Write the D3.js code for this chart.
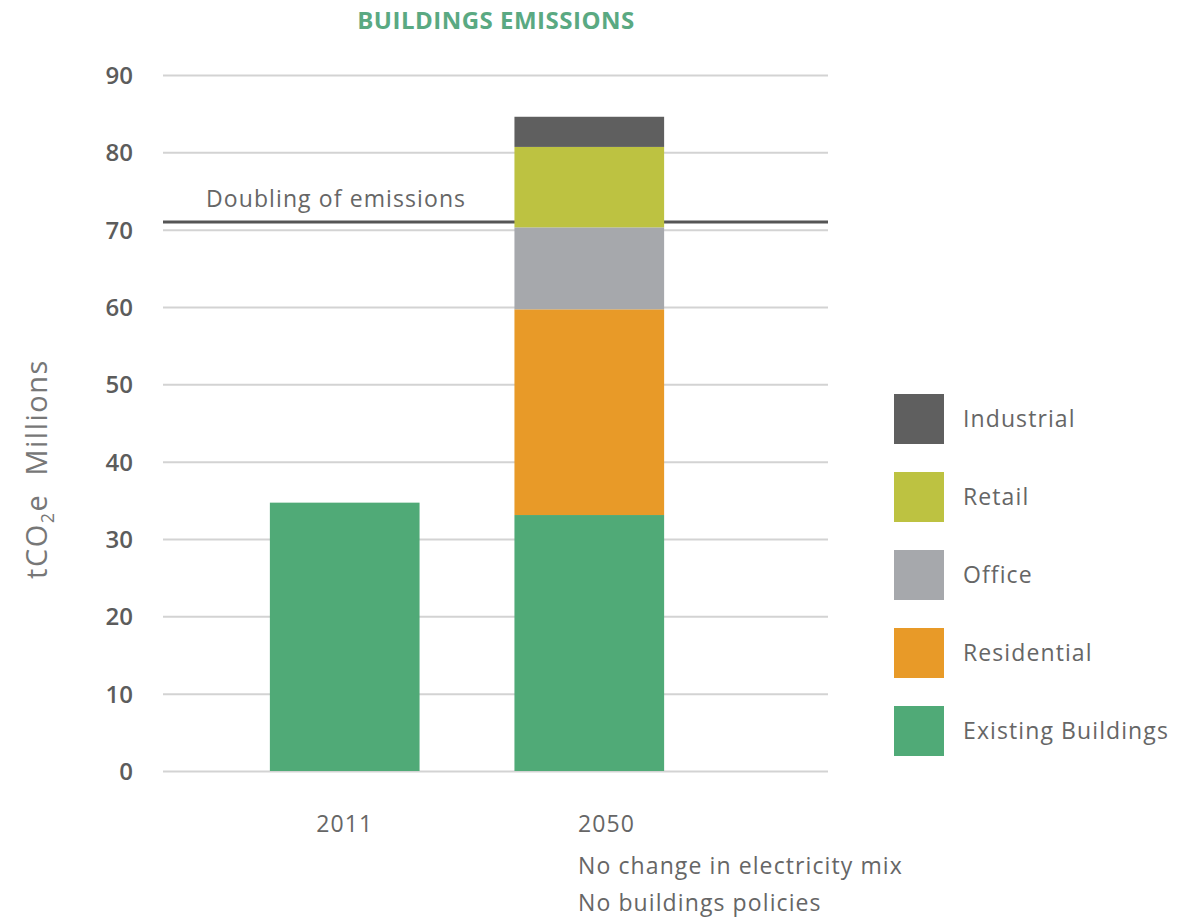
<!DOCTYPE html>
<html><head><meta charset="utf-8">
<script src="https://cdn.jsdelivr.net/npm/d3@7"></script>
<style>body{margin:0;background:#fff}svg{display:block}</style>
</head><body>
<svg id="chart" width="1180" height="918"></svg>
<script>
const categories = ["2011", "2050"];
const seriesNames = ["Existing Buildings", "Residential", "Office", "Retail", "Industrial"];
const existingBuildings = [34.7, 33.1];
const residential = [0, 26.6];
const office = [0, 10.6];
const retail = [0, 10.4];
const industrial = [0, 3.9];
const yTicks = [0, 10, 20, 30, 40, 50, 60, 70, 80, 90];
const doublingValue = 71;
const colors = ["#50aa77", "#e89a28", "#a6a8ac", "#bdc241", "#5f5f5f"];

const svg = d3.select("#chart");
const font = "'Open Sans', sans-serif";
const textColor = "#666";
const fs = 23, ls = 1.1;

const y = d3.scaleLinear().domain([0, 90]).range([771, 75]);
const x = d3.scaleBand().domain(categories).range([163, 771]).paddingInner(0.388).paddingOuter(0.437);
const gridX0 = 163, gridX1 = 828;

// title
svg.append("text").attr("x", 496).attr("y", 29).attr("text-anchor", "middle")
  .attr("font-family", font).attr("font-weight", 700).attr("font-size", 24)
  .attr("fill", "#5aa982").attr("letter-spacing", 0.5).text("BUILDINGS EMISSIONS");

// gridlines
const yAxis = d3.axisLeft(y).tickValues(yTicks).tickSize(-(gridX1 - gridX0)).tickPadding(30).tickFormat(d3.format("d"));
const gAxis = svg.append("g").attr("transform", `translate(${gridX0},0)`).call(yAxis);
gAxis.select(".domain").remove();
gAxis.selectAll(".tick line").attr("stroke", "#d3d3d3").attr("stroke-width", 2);
gAxis.selectAll(".tick text").attr("font-family", font).attr("font-size", 24).attr("font-weight", 600)
  .attr("fill", "#5c5c5c").attr("dy", "0.35em");

// stacked bars
const data = categories.map((c, i) => ({cat: c, "Existing Buildings": existingBuildings[i], "Residential": residential[i], "Office": office[i], "Retail": retail[i], "Industrial": industrial[i]}));
const stack = d3.stack().keys(seriesNames)(data);
svg.append("line").attr("x1", gridX0).attr("x2", gridX1)
  .attr("y1", y(doublingValue)).attr("y2", y(doublingValue))
  .attr("stroke", "#555").attr("stroke-width", 3);
svg.append("g").selectAll("g").data(stack).join("g").attr("fill", (d, i) => colors[i])
  .selectAll("rect").data(d => d.filter(p => p[1] - p[0] > 0)).join("rect")
  .attr("x", d => x(d.data.cat)).attr("width", x.bandwidth())
  .attr("y", d => y(d[1])).attr("height", d => y(d[0]) - y(d[1]));

svg.append("text").attr("x", 206).attr("y", 207).attr("font-family", font).attr("font-size", fs)
  .attr("letter-spacing", ls).attr("fill", textColor).text("Doubling of emissions");

// x labels
function label(xp, yp, t, anchor) {
  svg.append("text").attr("x", xp).attr("y", yp).attr("text-anchor", anchor || "start")
    .attr("font-family", font).attr("font-size", fs).attr("letter-spacing", ls).attr("fill", textColor).text(t);
}
label(x("2011") + x.bandwidth() / 2, 832, "2011", "middle");
label(578, 832, "2050");
label(578, 874, "No change in electricity mix");
label(578, 911, "No buildings policies");

// y axis title
const yt = svg.append("text").attr("transform", "translate(47,469) rotate(-90)").attr("text-anchor", "middle")
  .attr("font-family", font).attr("font-size", 29).attr("letter-spacing", 1.5).attr("fill", "#777")
  .style("white-space", "pre");
yt.append("tspan").text("tCO");
yt.append("tspan").attr("font-size", 18).attr("dy", 7).text("2");
yt.append("tspan").attr("dy", -7).text("e  Millions");

// legend
const legendOrder = ["Industrial", "Retail", "Office", "Residential", "Existing Buildings"];
const lg = svg.append("g").selectAll("g").data(legendOrder).join("g")
  .attr("transform", (d, i) => `translate(894,${394 + i * 78})`);
lg.append("rect").attr("width", 50).attr("height", 50).attr("fill", d => colors[seriesNames.indexOf(d)]);
lg.append("text").attr("x", 69).attr("y", 25).attr("dy", "0.35em")
  .attr("font-family", font).attr("font-size", fs).attr("letter-spacing", ls).attr("fill", textColor).text(d => d);
</script>
</body></html>
